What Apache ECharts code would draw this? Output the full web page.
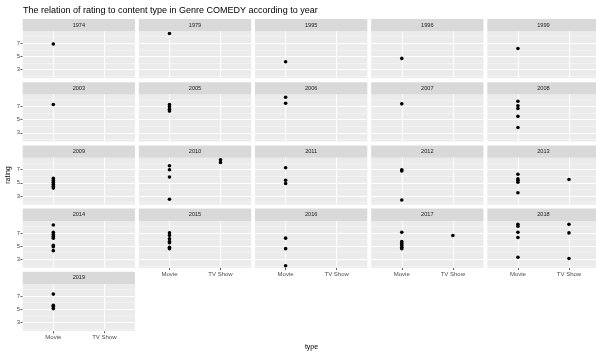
<!DOCTYPE html>
<html>
<head>
<meta charset="utf-8">
<script src="https://cdn.jsdelivr.net/npm/echarts@6/dist/echarts.min.js"></script>
<style>
  html, body { margin: 0; padding: 0; background: #ffffff; }
  #chart { width: 596px; height: 354px; }
</style>
</head>
<body>
<div id="chart"></div>
<script>
// Comedy titles: rating by content type, one facet per release year
const years = [1974, 1979, 1995, 1996, 1999, 2003, 2005, 2006, 2007, 2008,
               2009, 2010, 2011, 2012, 2013, 2014, 2015, 2016, 2017, 2018, 2019];
const types = ['Movie', 'TV Show'];
const movieRatings = [
  [6.9], [8.5], [4.2], [4.7], [6.2],
  [7.3], [7.3, 7.0, 6.6, 6.3], [8.4, 7.5], [7.4], [7.8, 7.1, 6.7, 5.5, 3.8],
  [5.7, 5.4, 5.1, 4.8, 4.5, 4.2], [7.6, 7.0, 5.9, 2.5], [7.3, 5.4, 4.9], [7.0, 6.8, 2.4], [6.3, 5.6, 5.4, 5.1, 3.5],
  [8.2, 7.1, 6.8, 6.5, 6.2, 5.1, 4.9, 4.3], [7.0, 6.6, 6.1, 5.7, 5.5, 4.8, 4.6], [6.2, 4.6, 2.0],
  [7.1, 5.7, 5.4, 5.1, 4.8, 4.6], [8.3, 8.0, 7.1, 6.3, 3.3],
  [7.3, 5.6, 5.4, 5.1]
];
const tvRatings = [
  [], [], [], [], [],
  [], [], [], [], [],
  [], [8.5, 8.1], [], [], [5.5],
  [], [], [], [6.6], [8.3, 7.0, 3.1],
  []
];
const yTicks = [3, 5, 7];
const yMinorTicks = [2, 4, 6, 8];

// facet layout (pixels)
const NCOL = 5;
const X0 = 22.7, PANEL_W = 112.3, PITCH_X = 116.15;
const Y0 = 19, STRIP_H = 12.3, PANEL_H = 47, PITCH_Y = 63.2;
const FONT = '"Liberation Sans", Arial, sans-serif';

// shared y scale with 5% padding on each side
const allRatings = movieRatings.flat().concat(tvRatings.flat());
const rMin = Math.min(...allRatings), rMax = Math.max(...allRatings);
const pad = (rMax - rMin) * 0.05;
const yLo = rMin - pad, yHi = rMax + pad;

const grids = [], xAxes = [], yAxes = [], series = [], graphics = [];

years.forEach((year, i) => {
  const col = i % NCOL, row = Math.floor(i / NCOL);
  const left = X0 + col * PITCH_X;
  const stripTop = Y0 + row * PITCH_Y;
  const top = stripTop + STRIP_H;
  const hasBelow = i + NCOL < years.length;
  const showX = !hasBelow;
  const showY = col === 0;

  grids.push({
    left: left, top: top, width: PANEL_W, height: PANEL_H,
    show: true, backgroundColor: '#EBEBEB', borderWidth: 0,
    containLabel: false, outerBoundsMode: 'none'
  });

  xAxes.push({
    gridIndex: i, type: 'value', min: 0.4, max: 2.6,
    axisLine: { show: false },
    splitLine: { show: false },
    axisTick: { show: showX, customValues: [1, 2], length: 2.2, lineStyle: { color: '#333333', width: 0.8 } },
    axisLabel: {
      show: showX, customValues: [1, 2], margin: 3.5,
      formatter: v => types[Math.round(v) - 1],
      fontSize: 6, color: '#4D4D4D', fontFamily: FONT
    }
  });

  yAxes.push({
    gridIndex: i, type: 'value', min: yLo, max: yHi,
    axisLine: { show: false },
    splitLine: { show: false },
    axisTick: { show: showY, customValues: yTicks, length: 2.2, lineStyle: { color: '#333333', width: 0.8 } },
    axisLabel: {
      show: showY, customValues: yTicks, margin: 2.5,
      fontSize: 6, color: '#4D4D4D', fontFamily: FONT
    }
  });

  // panel grid lines, kept underneath the points
  const lines = []
    .concat(yMinorTicks.map(v => ({ yAxis: v, lineStyle: { color: '#F7F7F7', width: 0.55, type: 'solid' } })))
    .concat(yTicks.map(v => ({ yAxis: v, lineStyle: { color: '#FFFFFF', width: 1.05, type: 'solid' } })))
    .concat(types.map((t, k) => ({ xAxis: k + 1, lineStyle: { color: '#FFFFFF', width: 1.05, type: 'solid' } })));
  series.push({
    type: 'scatter', xAxisIndex: i, yAxisIndex: i, data: [], z: 1, silent: true,
    markLine: { z: 1, silent: true, symbol: 'none', label: { show: false }, animation: false, data: lines }
  });

  // rating points
  const pts = movieRatings[i].map(r => [1, r]).concat(tvRatings[i].map(r => [2, r]));
  series.push({
    type: 'scatter', xAxisIndex: i, yAxisIndex: i, z: 10,
    symbol: 'circle', symbolSize: 3.6,
    itemStyle: { color: '#000000', opacity: 1 },
    data: pts
  });

  // facet strip
  graphics.push({
    type: 'rect', silent: true,
    shape: { x: left, y: stripTop, width: PANEL_W, height: STRIP_H },
    style: { fill: '#D9D9D9' }
  });
  graphics.push({
    type: 'text', silent: true,
    style: {
      text: String(year), x: left + PANEL_W / 2, y: stripTop + STRIP_H / 2,
      align: 'center', verticalAlign: 'middle', textAlign: 'center', textVerticalAlign: 'middle',
      fontSize: 5.6, fontFamily: FONT, fill: '#1A1A1A'
    }
  });
});

// plot title and axis titles
graphics.push({
  type: 'text', silent: true,
  style: {
    text: 'The relation of rating to content type in Genre COMEDY according to year',
    x: 23, y: 11, align: 'left', verticalAlign: 'middle', textAlign: 'left', textVerticalAlign: 'middle',
    fontSize: 9, fontFamily: FONT, fill: '#000000'
  }
});
graphics.push({
  type: 'text', silent: true, x: 8, y: 175, rotation: Math.PI / 2,
  style: {
    text: 'rating', x: 0, y: 0, align: 'center', verticalAlign: 'middle',
    textAlign: 'center', textVerticalAlign: 'middle',
    fontSize: 7, fontFamily: FONT, fill: '#000000'
  }
});
graphics.push({
  type: 'text', silent: true,
  style: {
    text: 'type', x: 311.5, y: 347, align: 'center', verticalAlign: 'middle',
    textAlign: 'center', textVerticalAlign: 'middle',
    fontSize: 7, fontFamily: FONT, fill: '#000000'
  }
});

const chart = echarts.init(document.getElementById('chart'), null, { renderer: 'canvas' });
chart.setOption({
  animation: false,
  backgroundColor: '#FFFFFF',
  textStyle: { fontFamily: FONT },
  grid: grids,
  xAxis: xAxes,
  yAxis: yAxes,
  series: series,
  graphic: { elements: graphics }
});
</script>
</body>
</html>
